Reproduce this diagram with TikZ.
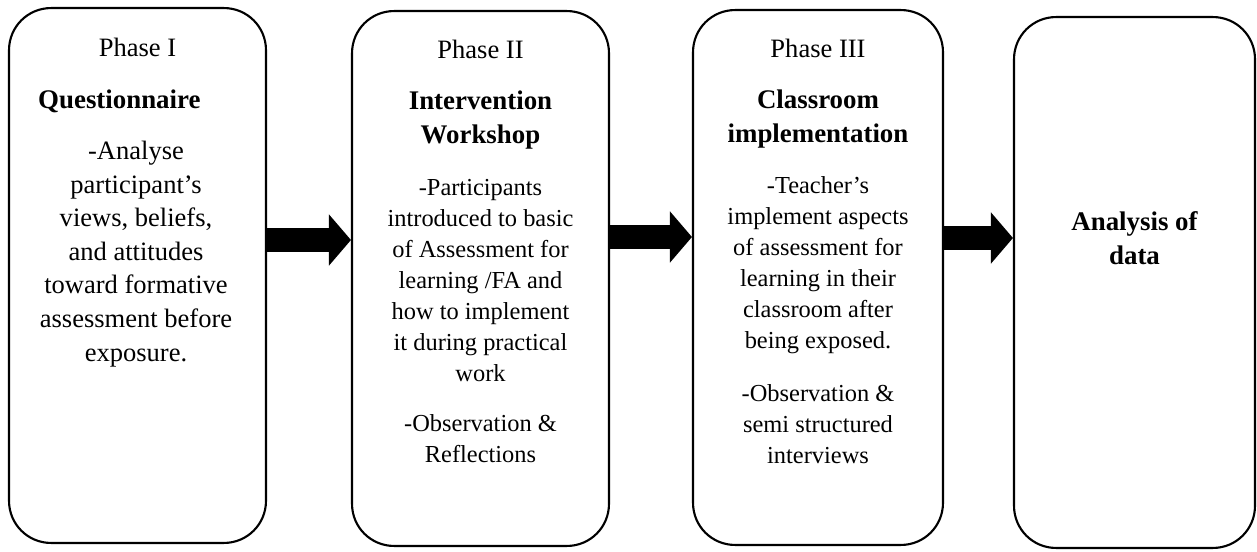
\documentclass[tikz,border=0pt]{standalone}
\usepackage{fontspec}
\setmainfont{Liberation Serif}
\usetikzlibrary{arrows.meta}

\tikzset{
  phasebox/.style={draw, line width=1.2pt, rounded corners=0.84cm, inner sep=0pt},
  phasename/.style={anchor=base, font=\fontsize{15.1}{19}\selectfont},
  phasehead/.style={anchor=base, align=center, font=\fontsize{15.3}{18.8}\selectfont\bfseries},
  bigbody/.style={anchor=base, align=center, font=\fontsize{15.1}{19.1}\selectfont},
  smallbody/.style={anchor=base, align=center, font=\fontsize{13.9}{17.6}\selectfont},
  flowarrow/.style={line width=0.48cm, -{Triangle[width=1cm, length=0.44cm]}}
}

\begin{document}
\begin{tikzpicture}[x=0.02cm, y=-0.02cm]
	\useasboundingbox (0,0) rectangle (1257,551);
	% the four boxes
	\node[phasebox, minimum width=5.14cm, minimum height=10.7cm] (phase1) at (137.5,275.5) {};
	\node[phasebox, minimum width=5.14cm, minimum height=10.7cm] (phase2) at (480.5,278.5) {};
	\node[phasebox, minimum width=5cm, minimum height=10.7cm] (phase3) at (818,277.5) {};
	\node[phasebox, minimum width=4.82cm, minimum height=10.62cm] (analysis) at (1134.5,282.5) {};
	% Phase I (multi-line nodes sit on their last line)
	\node[phasename] (name1) at (137.5,56) {Phase I};
	\node[phasehead, anchor=base west] (head1) at (32,108) {Questionnaire};
	\node[bigbody] (body1) at (136,361) {-Analyse\\participant's\\views, beliefs,\\and attitudes\\toward formative\\assessment before\\exposure.};
	% Phase II
	\node[phasename] (name2) at (480.5,58) {Phase II};
	\node[phasehead] (head2) at (480.5,143) {Intervention\\Workshop};
	\node[smallbody] (body2) at (480.5,381) {-Participants\\introduced to basic\\of Assessment for\\learning /FA and\\how to implement\\it during practical\\work};
	\node[smallbody] (obs2) at (480.5,462) {-Observation \&\\Reflections};
	% Phase III
	\node[phasename] (name3) at (818,57) {Phase III};
	\node[phasehead] (head3) at (818,142) {Classroom\\implementation};
	\node[smallbody] (body3) at (818,348) {-Teacher's\\implement aspects\\of assessment for\\learning in their\\classroom after\\being exposed.};
	\node[smallbody] (obs3) at (818,463) {-Observation \&\\semi structured\\interviews};
	% last step
	\node[phasehead] (head4) at (1134.5,264) {Analysis of\\data};
	% arrows between the steps
	\draw[flowarrow] (phase1.east |- 0,240) -- (phase2.west |- 0,240);
	\draw[flowarrow] (phase2.east |- 0,237) -- (phase3.west |- 0,237);
	\draw[flowarrow] (phase3.east |- 0,238) -- (analysis.west |- 0,238);
\end{tikzpicture}
\end{document}
